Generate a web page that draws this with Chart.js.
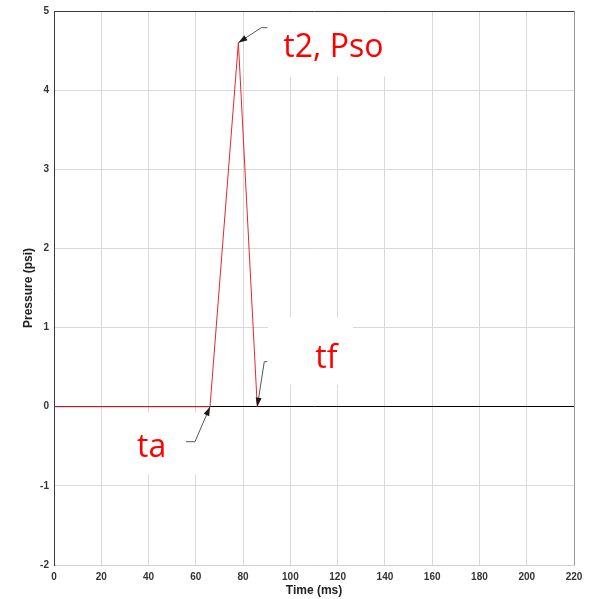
<!DOCTYPE html>
<html>
<head>
<meta charset="utf-8">
<title>Pressure pulse</title>
<script src="https://cdn.jsdelivr.net/npm/chart.js@4.4.1/dist/chart.umd.min.js"></script>
<style>
    html, body { margin: 0; padding: 0; background: #ffffff; }
    #wrap { width: 589px; height: 599px; }
</style>
</head>
<body>
<div id="wrap"><canvas id="pulseChart" width="589" height="599"></canvas></div>
<script>
// Pressure trace: arrival, peak overpressure, end of positive phase
const timeMs = [0, 66, 78, 86];
const pressurePsi = [0, 0, 4.6, 0];

const xTicks = [0, 20, 40, 60, 80, 100, 120, 140, 160, 180, 200, 220];
const yTicks = [-2, -1, 0, 1, 2, 3, 4, 5];

// Callouts: label text and the index of the point each one points at
const calloutText = ['ta', 't2, Pso', 'tf'];
const calloutPoint = [1, 2, 3];

const gridColor = '#d9d9d9';
const axisColor = '#3a3a3a';

/**
 * Draws the white label boxes, leader arrows and red labels,
 * anchored on the data points through the chart scales.
 */
const calloutPlugin = {
    id: 'callouts',
    // offsets (px) relative to the pointed data point
    layout: [
        { box: [-95, 6, 83, 62], tail: [[-24, 35], [-15, 35]], text: [-73, 50] },
        { box: [27, -30, 135, 64], tail: [[29, -15], [23, -15]], text: [45, 14] },
        { box: [11, -89, 85, 67], tail: [[10, -45], [7, -45]], text: [58, -39] }
    ],
    tip(chart, i) {
        const xs = chart.scales.x;
        const ys = chart.scales.y;
        const k = calloutPoint[i];
        return [xs.getPixelForValue(timeMs[k]), ys.getPixelForValue(pressurePsi[k])];
    },
    beforeDatasetsDraw(chart) {
        const ctx = chart.ctx;
        ctx.save();
        ctx.fillStyle = '#ffffff';
        this.layout.forEach((c, i) => {
            const [tx, ty] = this.tip(chart, i);
            ctx.fillRect(tx + c.box[0], ty + c.box[1], c.box[2], c.box[3]);
        });
        ctx.restore();
    },
    afterDatasetsDraw(chart) {
        const ctx = chart.ctx;
        ctx.save();
        this.layout.forEach((c, i) => {
            const [tx, ty] = this.tip(chart, i);
            const [p0, p1] = c.tail;

            // leader line
            ctx.strokeStyle = '#555555';
            ctx.lineWidth = 1;
            ctx.beginPath();
            ctx.moveTo(tx + p0[0], ty + p0[1]);
            ctx.lineTo(tx + p1[0], ty + p1[1]);
            ctx.lineTo(tx, ty);
            ctx.stroke();

            // arrow head
            const ang = Math.atan2(ty - (ty + p1[1]), tx - (tx + p1[0]));
            const len = 9, half = 3;
            ctx.fillStyle = '#1a1a1a';
            ctx.beginPath();
            ctx.moveTo(tx, ty);
            ctx.lineTo(tx - len * Math.cos(ang) + half * Math.sin(ang), ty - len * Math.sin(ang) - half * Math.cos(ang));
            ctx.lineTo(tx - len * Math.cos(ang) - half * Math.sin(ang), ty - len * Math.sin(ang) + half * Math.cos(ang));
            ctx.closePath();
            ctx.fill();

            // label
            ctx.fillStyle = '#ff0000';
            ctx.font = '32px "Open Sans", "Noto Sans", sans-serif';
            ctx.textAlign = 'left';
            ctx.textBaseline = 'alphabetic';
            ctx.fillText(calloutText[i], tx + c.text[0], ty + c.text[1]);
        });
        ctx.restore();
    }
};

const ctx = document.getElementById('pulseChart');

new Chart(ctx, {
    type: 'scatter',
    data: {
        datasets: [{
            label: 'Pressure',
            data: timeMs.map((t, i) => ({ x: t, y: pressurePsi[i] })),
            showLine: true,
            borderColor: '#e8262c',
            borderWidth: 1,
            pointRadius: 0,
            tension: 0
        }]
    },
    options: {
        responsive: false,
        animation: false,
        layout: {
            padding: { top: 11, right: 15, left: 0, bottom: 0 }
        },
        plugins: {
            legend: { display: false },
            tooltip: { enabled: false }
        },
        scales: {
            x: {
                type: 'linear',
                min: 0,
                max: 220,
                afterBuildTicks: (scale) => { scale.ticks = xTicks.map(v => ({ value: v })); },
                afterFit: (scale) => { scale.height = 34; },
                grid: {
                    drawTicks: false,
                    color: (c) => c.tick && c.tick.value === 220 ? '#9a9a9a' : gridColor
                },
                border: { color: '#cfcfcf' },
                ticks: {
                    padding: 6,
                    color: '#333333',
                    font: { family: '"Liberation Sans", Arial, sans-serif', size: 10, weight: 'bold' }
                },
                title: {
                    display: true,
                    text: 'Time (ms)',
                    color: '#222222',
                    padding: { top: 0, bottom: 1 },
                    font: { family: '"Liberation Sans", Arial, sans-serif', size: 12, weight: 'bold' }
                }
            },
            y: {
                type: 'linear',
                min: -2,
                max: 5,
                afterBuildTicks: (scale) => { scale.ticks = yTicks.map(v => ({ value: v })); },
                afterFit: (scale) => { scale.width = 54; },
                grid: {
                    drawTicks: false,
                    color: (c) => {
                        if (!c.tick) return gridColor;
                        if (c.tick.value === 0) return '#000000';
                        if (c.tick.value === 5) return axisColor;
                        return gridColor;
                    }
                },
                border: { color: axisColor },
                ticks: {
                    padding: 5,
                    color: '#333333',
                    font: { family: '"Liberation Sans", Arial, sans-serif', size: 10, weight: 'bold' }
                },
                title: {
                    display: true,
                    text: 'Pressure (psi)',
                    color: '#222222',
                    padding: { top: 21, bottom: 0 },
                    font: { family: '"Liberation Sans", Arial, sans-serif', size: 12, weight: 'bold' }
                }
            }
        }
    },
    plugins: [calloutPlugin]
});
</script>
</body>
</html>
